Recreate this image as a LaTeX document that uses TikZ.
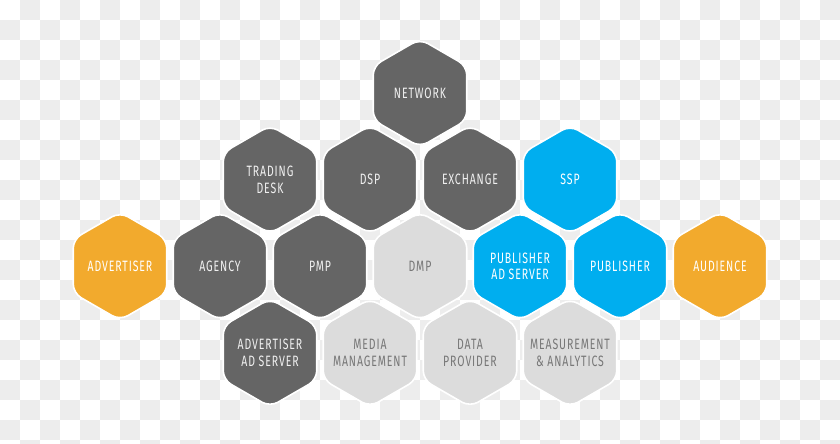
\documentclass[tikz,border=0pt]{standalone}
\usepackage{fontspec}
\usetikzlibrary{shapes.geometric}
\newfontfamily\hexfont[FakeStretch=0.7,LetterSpace=6]{Fira Sans}
\definecolor{hexdark}{HTML}{656565}
\definecolor{hexlight}{HTML}{DCDCDC}
\definecolor{hexblue}{HTML}{00AEEF}
\definecolor{hexorange}{HTML}{F2AA2D}
\definecolor{checker}{HTML}{EDEDED}
\definecolor{txtlight}{HTML}{777777}
\definecolor{txtdark}{HTML}{F0F0F0}
\tikzset{
  hex/.style={regular polygon, regular polygon sides=6, shape border rotate=30,
    minimum size=108pt, inner sep=0pt, draw=white, line width=1.6pt,
    rounded corners=9pt},
  hextext/.style={align=center, inner sep=0pt,
    font=\hexfont\fontsize{15}{16.5}\selectfont},
  dark/.style={hex, fill=hexdark, label={[hextext, text=txtdark]center:#1}},
  light/.style={hex, fill=hexlight, label={[hextext, text=txtlight]center:#1}},
  blue/.style={hex, fill=hexblue, label={[hextext, text=white]center:#1}},
  orange/.style={hex, fill=hexorange, label={[hextext, text=white]center:#1}},
}
\begin{document}
\begin{tikzpicture}[x=1pt,y=-1pt]
\useasboundingbox (0,0) rectangle (840,444);
\fill[white] (0,0) rectangle (840,444);
\foreach \i in {0,...,41}{
  \foreach \j in {0,...,22}{
    \pgfmathtruncatemacro{\m}{mod(\i+\j,2)}
    \ifnum\m=1 \fill[checker] (20*\i,20*\j) rectangle ++(20,20);\fi
  }
}
% row 1
\node[dark={NETWORK}] (network) at (420,93) {};
% row 2
\node[dark={TRADING\\DESK}] (trading) at (270,179.6) {};
\node[dark={DSP}] (dsp) at (370,179.6) {};
\node[dark={EXCHANGE}] (exchange) at (470,179.6) {};
\node[blue={SSP}] (ssp) at (570,179.6) {};
% row 3
\node[orange={ADVERTISER}] (advertiser) at (120,266.2) {};
\node[dark={AGENCY}] (agency) at (220,266.2) {};
\node[dark={PMP}] (pmp) at (320,266.2) {};
\node[light={DMP}] (dmp) at (420,266.2) {};
\node[blue={PUBLISHER\\AD SERVER}] (pubadserver) at (520,266.2) {};
\node[blue={PUBLISHER}] (publisher) at (620,266.2) {};
\node[orange={AUDIENCE}] (audience) at (720,266.2) {};
% row 4
\node[dark={ADVERTISER\\AD SERVER}] (advadserver) at (270,352.8) {};
\node[light={MEDIA\\MANAGEMENT}] (media) at (370,352.8) {};
\node[light={DATA\\PROVIDER}] (data) at (470,352.8) {};
\node[light={MEASUREMENT\\\& ANALYTICS}] (measure) at (570,352.8) {};
\end{tikzpicture}
\end{document}
